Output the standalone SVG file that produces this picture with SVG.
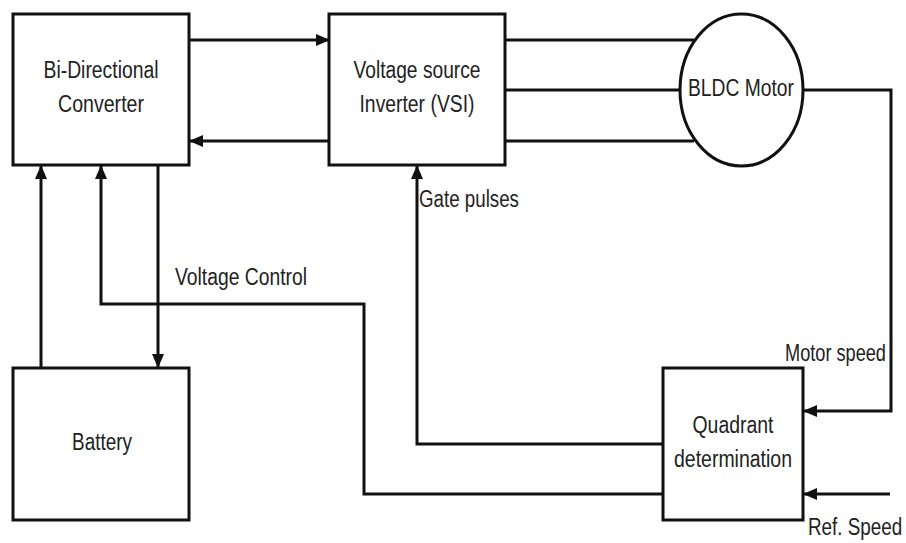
<svg xmlns="http://www.w3.org/2000/svg" width="906" height="543" viewBox="0 0 906 543">
<style>
.box{fill:#fff;stroke:#111;stroke-width:3}
.ln{fill:none;stroke:#111;stroke-width:3}
.arr{marker-end:url(#ah)}
text{font-family:"Liberation Sans",Arial,sans-serif;font-size:23px;fill:#222}
.c{text-anchor:middle}
</style>
<defs>
<marker id="ah" viewBox="0 0 14 12" refX="13" refY="6" markerWidth="14" markerHeight="12" markerUnits="userSpaceOnUse" orient="auto">
<path d="M0,0 L14,6 L0,12 Z" fill="#111"/>
</marker>
</defs>
<rect width="906" height="543" fill="#fff"/>
<g id="connectors">
<line class="ln arr" x1="189" y1="40" x2="329" y2="40"/>
<line class="ln arr" x1="329" y1="141" x2="190" y2="141"/>
<line class="ln" x1="505" y1="40" x2="694" y2="40"/>
<line class="ln" x1="505" y1="90" x2="680" y2="90"/>
<line class="ln" x1="505" y1="141" x2="694" y2="141"/>
<polyline class="ln arr" points="803,90 891,90 891,411 804,411"/>
<line class="ln arr" x1="890" y1="494" x2="804" y2="494"/>
<polyline class="ln arr" points="663,444 417,444 417,166"/>
<polyline class="ln arr" points="663,494 364,494 364,304 101,304 101,166"/>
<line class="ln arr" x1="41" y1="368" x2="41" y2="166"/>
<line class="ln arr" x1="158" y1="165" x2="158" y2="367"/>
</g>
<g id="bidirectional">
<rect class="box" x="13" y="14" width="176" height="151"/>
<text class="c" x="101" y="78" textLength="115" lengthAdjust="spacingAndGlyphs">Bi-Directional</text>
<text class="c" x="101" y="112" textLength="86" lengthAdjust="spacingAndGlyphs">Converter</text>
</g>
<g id="vsi">
<rect class="box" x="329" y="14" width="176" height="151"/>
<text class="c" x="417" y="78" textLength="127" lengthAdjust="spacingAndGlyphs">Voltage source</text>
<text class="c" x="417" y="112" textLength="115" lengthAdjust="spacingAndGlyphs">Inverter (VSI)</text>
</g>
<g id="motor">
<ellipse class="box" cx="741.5" cy="90" rx="61.5" ry="76"/>
<text class="c" x="741" y="96" textLength="106" lengthAdjust="spacingAndGlyphs">BLDC Motor</text>
</g>
<g id="battery">
<rect class="box" x="13" y="368" width="176" height="152"/>
<text class="c" x="102" y="450" textLength="60" lengthAdjust="spacingAndGlyphs">Battery</text>
</g>
<g id="quadrant">
<rect class="box" x="663" y="368" width="140" height="152"/>
<text class="c" x="733" y="433" textLength="81" lengthAdjust="spacingAndGlyphs">Quadrant</text>
<text class="c" x="733" y="467" textLength="118" lengthAdjust="spacingAndGlyphs">determination</text>
</g>
<g id="labels">
<text transform="translate(785,361) scale(0.79,1)">Motor speed</text>
<text x="419" y="207" textLength="100" lengthAdjust="spacingAndGlyphs">Gate pulses</text>
<text x="175" y="285" textLength="132" lengthAdjust="spacingAndGlyphs">Voltage Control</text>
<text transform="translate(808,535) scale(0.82,1)">Ref. Speed</text>
</g>
</svg>
